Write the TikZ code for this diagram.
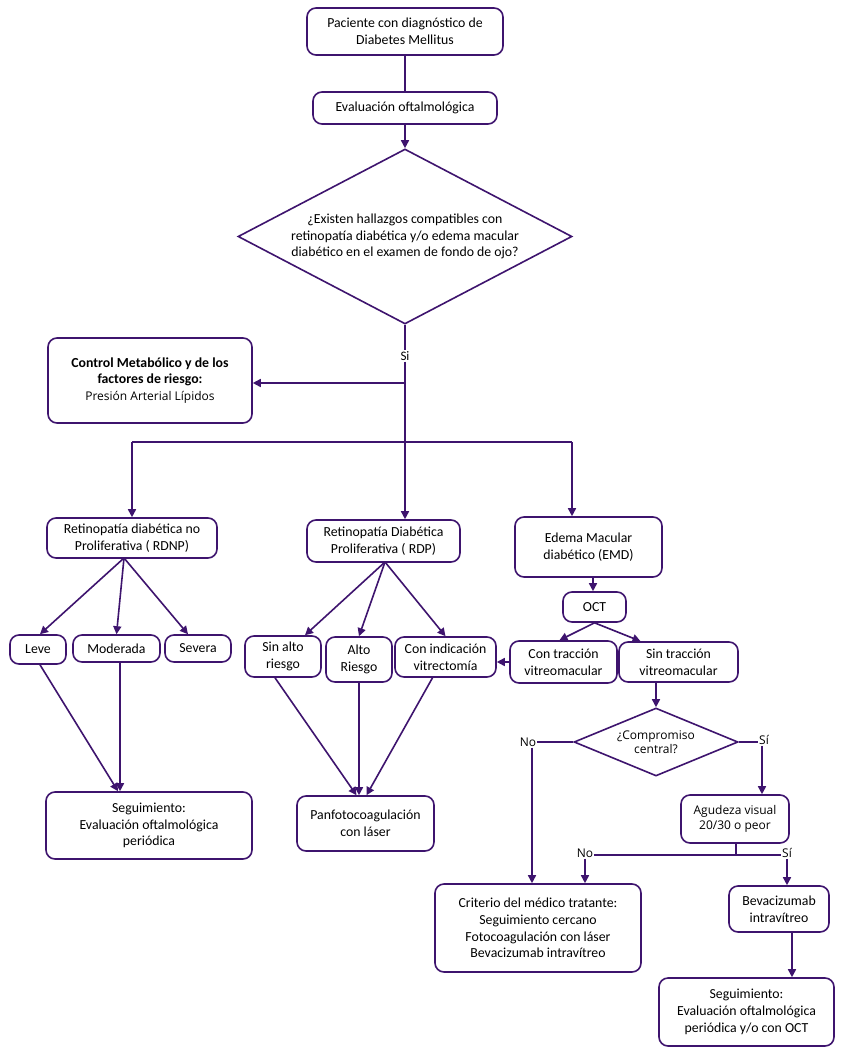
\documentclass[tikz,border=0pt]{standalone}
\usepackage{fontspec}
\setmainfont{Carlito}
\newfontfamily\osans{Open Sans}
\usetikzlibrary{arrows.meta,shapes.geometric}
\definecolor{pc}{RGB}{62,20,110}
\begin{document}
\begin{tikzpicture}[x=1pt,y=-1pt,
  box/.style 2 args={draw=pc,line width=1.6pt,rounded corners=9pt,align=center,inner sep=0pt,
    minimum width=#1pt,minimum height=#2pt,font=\fontsize{13.8}{16.8}\selectfont},
  dia/.style 2 args={draw=pc,line width=1.6pt,diamond,aspect=2,align=center,inner sep=0pt,
    minimum width=#1pt,minimum height=#2pt},
  lbl/.style={inner sep=1pt,font=\osans\fontsize{12}{14}\selectfont},
  ln/.style={draw=pc,line width=1.6pt},
  ar/.style={draw=pc,line width=1.6pt,-{Triangle[length=8pt,width=8pt]},color=pc}]
\useasboundingbox (0,0) rectangle (844,1056);
\fill[white] (0,0) rectangle (844,1056);

% nodes
\node[box={196}{47}] (n1) at (405,31.5) {Paciente con diagnóstico de\\Diabetes Mellitus};
\node[box={184}{32}] (n2) at (405,108) {Evaluación oftalmológica};
\node[dia={334}{175},font=\fontsize{13.8}{16.8}\selectfont] (d1) at (405,236.5) {¿Existen hallazgos compatibles con\\retinopatía diabética y/o edema macular\\diabético en el examen de fondo de ojo?};
\node[box={204}{85}] (ctrl) at (150,380.5) {\textbf{Control Metabólico y de los}\\\textbf{factores de riesgo:}\\{\osans\fontsize{12}{15}\selectfont Presión Arterial Lípidos}};
\node[box={170}{40}] (rdnp) at (132,538) {Retinopatía diabética no\\Proliferativa ( RDNP)};
\node[box={153}{42}] (rdp) at (383.5,541) {Retinopatía Diabética\\Proliferativa ( RDP)};
\node[box={147}{60}] (emd) at (588.5,547) {Edema Macular\\diabético (EMD)};
\node[box={63}{30}] (oct) at (594.5,607) {OCT};
\node[box={107}{42}] (con) at (563.5,662) {Con tracción\\vitreomacular};
\node[box={119}{40}] (sin) at (678.5,662) {Sin tracción\\vitreomacular};
\node[box={56}{29}] (leve) at (38,649.5) {Leve};
\node[box={87}{27}] (mod) at (116.5,648.5) {Moderada};
\node[box={66}{27}] (sev) at (198,648.5) {Severa};
\node[box={76}{41}] (sar) at (283,656.5) {Sin alto\\riesgo};
\node[box={66}{45}] (alr) at (359,659.5) {Alto\\Riesgo};
\node[box={101}{40}] (ci) at (445.5,657) {Con indicación\\vitrectomía};
\node[box={206}{67}] (seg1) at (149,825.5) {Seguimiento:\\Evaluación oftalmológica\\periódica};
\node[box={137}{55}] (pan) at (365.5,823.5) {Panfotocoagulación\\con láser};
\node[dia={164}{68},font=\osans\fontsize{12}{14.5}\selectfont] (d2) at (656,742) {¿Compromiso\\central?};
\node[box={108}{48},font=\osans\fontsize{12}{14.5}\selectfont] (agu) at (735,819) {Agudeza visual\\20/30 o peor};
\node[box={206}{88}] (crit) at (538,928) {Criterio del médico tratante:\\Seguimiento cercano\\Fotocoagulación con láser\\Bevacizumab intravítreo};
\node[box={100}{46}] (bev) at (779,909) {Bevacizumab\\intravítreo};
\node[box={175}{68}] (seg2) at (746.5,1012) {Seguimiento:\\Evaluación oftalmológica\\periódica y/o con OCT};

% labels
\node[inner sep=1pt,fill=white,font=\fontsize{13}{15}\selectfont] (si0) at (405,356) {Si};
\node[lbl] (no1) at (528,742) {No};
\node[lbl] (si1) at (764,740) {Sí};
\node[lbl] (no2) at (585,853) {No};
\node[lbl] (si2) at (787,853) {Sí};

\coordinate (j1) at (405,383);
\coordinate (hL) at (132,442);
\coordinate (hR) at (572,442);
\coordinate (j2) at (736,855);
\coordinate (rdnpO) at (124,558);
\coordinate (rdpO) at (385,562);

% connectors
\draw[ln] (n1) -- (n2);
\draw[ar] (n2) -- (d1.north);
\draw[ln] (d1.south) -- (si0.north);
\draw[ar] (si0.south) -- (rdp.north -| si0.south);
\draw[ar] (j1) -- (ctrl.east |- j1);
\draw[ln] (hL) -- (hR);
\draw[ar] (hL) -- (rdnp.north -| hL);
\draw[ar] (hR) -- (emd.north -| hR);

\draw[ar] (rdnpO) -- ([xshift=2pt]leve.north);
\draw[ar] (rdnpO) -- (mod.north);
\draw[ar] (rdnpO) -- ([xshift=-10pt]sev.north);
\draw[ar] (rdpO) -- ([xshift=22pt]sar.north);
\draw[ar] (rdpO) -- (alr.north);
\draw[ar] (rdpO) -- (ci.north);

\draw[ar] ([xshift=2pt]leve.south) -- ([xshift=-31pt]seg1.north);
\draw[ar] ([xshift=3.5pt]mod.south) -- ([xshift=3.5pt]mod.south |- seg1.north);
\draw[ar] ([xshift=-8pt]sar.south) -- ([xshift=-9pt]pan.north);
\draw[ar] (alr.south) -- (alr.south |- pan.north);
\draw[ar] ([xshift=-13pt]ci.south) -- ([xshift=1pt]pan.north);

\draw[ar] ([xshift=4.5pt]emd.south) -- ([xshift=4.5pt]emd.south |- oct.north);
\draw[ar] (oct.south) -- ([xshift=-4pt]con.north);
\draw[ar] (oct.south) -- ([xshift=-38pt]sin.north);
\draw[ar] (con.west) -- (ci.east |- con.west);
\draw[ar] (sin.south -| d2.north) -- (d2.north);

\draw[ln] (d2.west) -- (no1.east |- d2.west);
\draw[ar] ([xshift=4pt]no1.south) -- ([xshift=4pt]no1.south |- crit.north);
\draw[ln] (d2.east) -- (si1.west |- d2.east);
\draw[ar] ([xshift=-2pt]si1.south) -- ([xshift=-2pt]si1.south |- agu.north);

\draw[ln] (agu.south -| j2) -- (j2);
\draw[ln] (no2.east |- j2) -- (si2.west |- j2);
\draw[ar] (no2.south) -- (no2.south |- crit.north);
\draw[ar] (si2.south) -- (si2.south |- bev.north);
\draw[ar] ([xshift=13pt]bev.south) -- ([xshift=13pt]bev.south |- seg2.north);
\end{tikzpicture}
\end{document}
